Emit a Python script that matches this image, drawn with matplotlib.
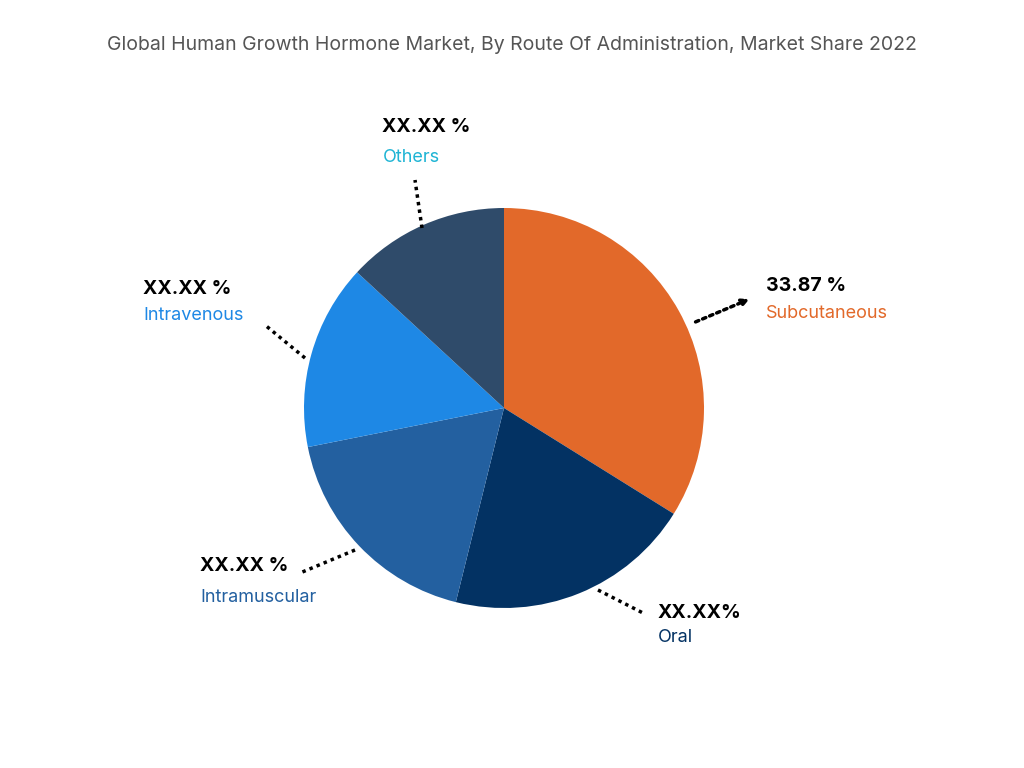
import matplotlib
matplotlib.use("Agg")
import matplotlib.pyplot as plt

categories = ["Subcutaneous", "Oral", "Intramuscular", "Intravenous", "Others"]
shares = [33.87, 20.0, 18.0, 15.0, 13.13]
value_labels = ["33.87 %", "XX.XX%", "XX.XX %", "XX.XX %", "XX.XX %"]
colors = ["#E2692A", "#033263", "#2360A0", "#1E88E5", "#2F4B6A"]
label_colors = ["#E2692A", "#033263", "#2360A0", "#1E88E5", "#1EB4D4"]

plt.rcParams['font.family'] = ['Inter', 'DejaVu Sans']
fig = plt.figure(figsize=(10.24, 7.68), dpi=100)
ax = fig.add_axes([0, 0, 1, 1])
ax.set_xlim(0, 1024); ax.set_ylim(0, 768); ax.set_aspect('equal'); ax.axis('off')
H = 768
ax.pie(shares, colors=colors, startangle=90, counterclock=False, center=(504, H - 408), radius=200, frame=True)
ax.set_xlim(0, 1024); ax.set_ylim(0, 768); ax.axis('off')

fig.text(0.5, 1 - 45 / H, "Global Human Growth Hormone Market, By Route Of Administration, Market Share 2022",
         ha='center', va='center', fontsize=14, color='#555555')

# label positions (value text, category text, line start, line end)
layout = [
    ((766, 286), (766, 313), (693, 323), (752, 298), True),
    ((658, 613), (658, 638), (598, 590), (643, 613), False),
    ((200, 566), (200, 597), (355, 550), (300, 573), False),
    ((143, 289), (143, 316), (305, 358), (265, 325), False),
    ((382, 127), (383, 158), (422, 228), (415, 180), False),
]
for i, (vp, cp, s, e, arrow) in enumerate(layout):
    ax.text(vp[0], H - vp[1], value_labels[i], fontsize=14, fontweight='bold', color='black', va='center', ha='left')
    ax.text(cp[0], H - cp[1], categories[i], fontsize=13, color=label_colors[i], va='center', ha='left')
    if arrow:
        ax.annotate("", xy=(e[0], H - e[1]), xytext=(s[0], H - s[1]),
                    arrowprops=dict(arrowstyle='->', linestyle=(0, (1, 1.2)), lw=2.5, color='black'))
    else:
        ax.plot([s[0], e[0]], [H - s[1], H - e[1]], linestyle=(0, (1, 1.2)), lw=2.5, color='black')

fig.savefig("out.png", dpi=100, facecolor='white')
